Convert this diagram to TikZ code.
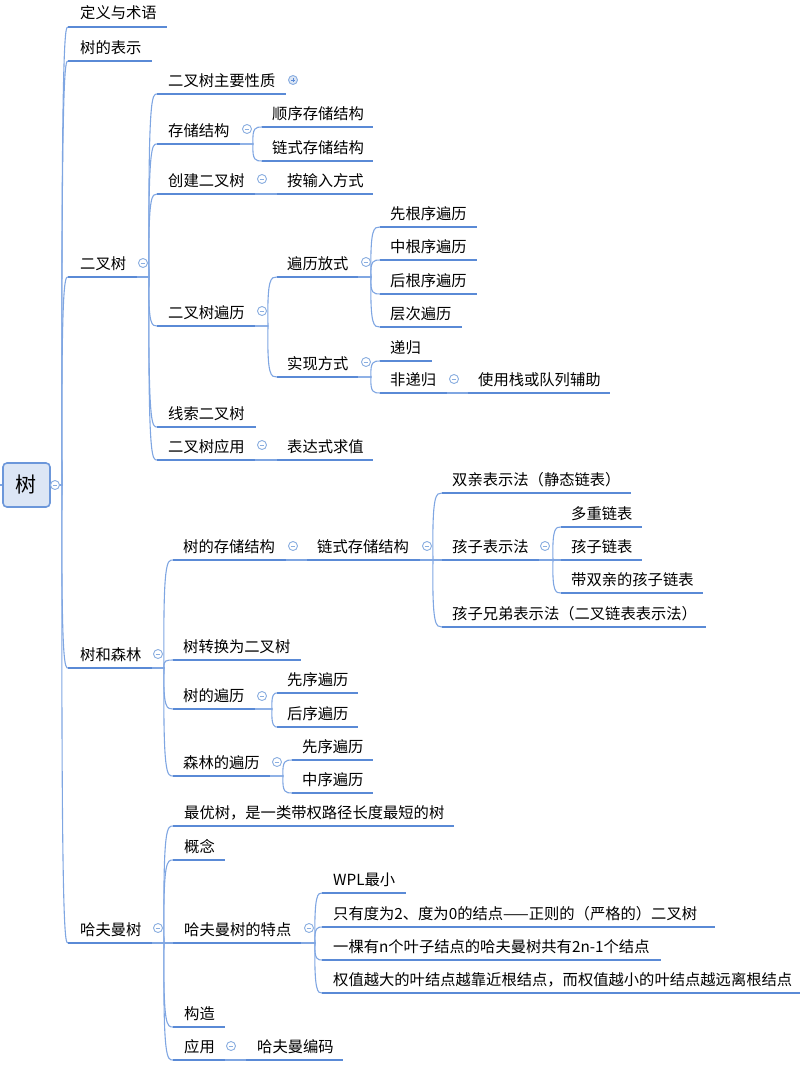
\documentclass[tikz,border=0pt]{standalone}
\usepackage{fontspec}
\newfontfamily\cjk{Noto Sans CJK SC}
\usetikzlibrary{calc}
\definecolor{ulc}{HTML}{5A8AD6}
\definecolor{cnc}{HTML}{7FA6E2}
\definecolor{togc}{HTML}{8AAEE0}
\definecolor{rootfill}{HTML}{DCE6F5}
\definecolor{rootdraw}{HTML}{6C97DA}
\tikzset{
  lbl/.style={anchor=base west, inner sep=0pt, font=\cjk\fontsize{15.3}{15.3}\selectfont, text=black},
  uline/.style={line width=2.6pt, draw=ulc},
  conn/.style={line width=1.1pt, draw=cnc},
  tog/.style={circle, draw=togc, fill=white, line width=0.9pt, minimum size=9pt, inner sep=0pt},
  rootbox/.style={rectangle, rounded corners=4pt, draw=rootdraw, fill=rootfill, line width=1.6pt,
    minimum width=47pt, minimum height=44pt, inner sep=0pt, font=\cjk\fontsize{21}{21}\selectfont}
}
% name, text x, underline x0, underline x1, underline y, text
\newcommand\mmn[6]{%
  \node[lbl] (#1) at (#2,{#5-8}) {#6};
  \coordinate (#1l) at (#3,#5);
  \coordinate (#1r) at (#4,#5);}
\newcommand\mmul[1]{\draw[uline] (#1l) -- (#1r);}
% parent, child, fork x
\newcommand\mlink[3]{%
  \draw[conn] let \p1=(#1r), \p2=(#2l) in
    (\p1) -- (#3pt,\y1) .. controls (#3pt-1pt,\y2) and (#3pt+3pt,\y2) .. (\p2);}
% name, x, y
\newcommand\tgl[3]{%
  \node[tog] (#1) at (#2,#3) {};
  \draw[togc, line width=0.9pt] ($(#1)+(-2.3,0)$) -- ($(#1)+(2.3,0)$);}
\newcommand\tglp[3]{%
  \node[tog, fill=rootfill] (#1) at (#2,#3) {};
  \draw[ulc, line width=0.9pt] ($(#1)+(-1.8,0)$) -- ($(#1)+(1.8,0)$);
  \draw[ulc, line width=0.9pt] ($(#1)+(0,-1.8)$) -- ($(#1)+(0,1.8)$);}

\begin{document}
\begin{tikzpicture}[x=1pt,y=-1pt]
\useasboundingbox (0,0) rectangle (811,1065);

% ---------- nodes ----------
\node[rootbox] (root) at (26.5,485) {树};
\coordinate (stub) at (0,485);

\mmn{a1}{80}{68}{167}{27}{定义与术语}
\mmn{a2}{80}{68}{152}{61}{树的表示}
\mmn{a3}{80}{68}{137}{277}{二叉树}
\mmn{a4}{80}{68}{152}{668}{树和森林}
\mmn{a5}{80}{68}{152}{943}{哈夫曼树}

\mmn{b1}{168}{157}{286}{94}{二叉树主要性质}
\mmn{b2}{168}{157}{240}{144}{存储结构}
\mmn{b3}{168}{157}{255}{194}{创建二叉树}
\mmn{b4}{168}{157}{255}{326}{二叉树遍历}
\mmn{b5}{168}{157}{256}{427}{线索二叉树}
\mmn{b6}{168}{157}{255}{460}{二叉树应用}

\mmn{c1}{272}{262}{373}{127}{顺序存储结构}
\mmn{c2}{272}{262}{373}{161}{链式存储结构}
\mmn{c3}{287}{277}{373}{194}{按输入方式}
\mmn{c4}{287}{277}{373}{460}{表达式求值}

\mmn{d1}{287}{277}{358}{277}{遍历放式}
\mmn{d2}{287}{277}{358}{377}{实现方式}

\mmn{e1}{390}{380}{477}{227}{先根序遍历}
\mmn{e2}{390}{380}{477}{260}{中根序遍历}
\mmn{e3}{390}{380}{477}{294}{后根序遍历}
\mmn{e4}{390}{380}{462}{327}{层次遍历}
\mmn{e5}{390}{380}{432}{361}{递归}
\mmn{e6}{390}{380}{447}{393}{非递归}
\mmn{f1}{478}{468}{610}{393}{使用栈或队列辅助}

\mmn{g1}{183}{173}{286}{560}{树的存储结构}
\mmn{g2}{183}{173}{301}{660}{树转换为二叉树}
\mmn{g3}{183}{173}{255}{709}{树的遍历}
\mmn{g4}{183}{173}{270}{776}{森林的遍历}
\mmn{h1}{317}{307}{420}{560}{链式存储结构}
\mmn{i1}{452}{442}{631}{493}{双亲表示法（静态链表）}
\mmn{i2}{452}{442}{539}{560}{孩子表示法}
\mmn{i3}{452}{442}{706}{627}{孩子兄弟表示法（二叉链表表示法）}
\mmn{j1}{571}{561}{642}{527}{多重链表}
\mmn{j2}{571}{561}{642}{560}{孩子链表}
\mmn{j3}{571}{561}{703}{593}{带双亲的孩子链表}
\mmn{k1}{287}{277}{358}{693}{先序遍历}
\mmn{k2}{287}{277}{358}{727}{后序遍历}
\mmn{k3}{302}{292}{373}{760}{先序遍历}
\mmn{k4}{302}{292}{373}{793}{中序遍历}

\mmn{l1}{184}{173}{454}{826}{最优树，是一类带权路径长度最短的树}
\mmn{l2}{184}{173}{225}{860}{概念}
\mmn{l3}{184}{173}{301}{943}{哈夫曼树的特点}
\mmn{l4}{184}{173}{225}{1027}{构造}
\mmn{l5}{184}{173}{225}{1060}{应用}
\mmn{m1}{333}{322}{406}{893}{WPL最小}
\mmn{m2}{333}{322}{715}{927}{只有度为2、度为0的结点——正则的（严格的）二叉树}
\mmn{m3}{333}{322}{661}{960}{一棵有n个叶子结点的哈夫曼树共有2n-1个结点}
\mmn{m4}{333}{322}{800}{993}{权值越大的叶结点越靠近根结点，而权值越小的叶结点越远离根结点}
\mmn{n1}{257}{246}{343}{1060}{哈夫曼编码}

% ---------- connectors ----------
\draw[conn] (stub) -- (root.west);
\coordinate (rootr) at (59.5,485);
\foreach \c in {a1,a2,a3,a4,a5} {\mlink{root}{\c}{62}}
\foreach \c in {b1,b2,b3,b4,b5,b6} {\mlink{a3}{\c}{149}}
\foreach \c in {c1,c2} {\mlink{b2}{\c}{253}}
\mlink{b3}{c3}{266}
\mlink{b6}{c4}{266}
\foreach \c in {d1,d2} {\mlink{b4}{\c}{268}}
\foreach \c in {e1,e2,e3,e4} {\mlink{d1}{\c}{371}}
\foreach \c in {e5,e6} {\mlink{d2}{\c}{371}}
\mlink{e6}{f1}{458}
\foreach \c in {g1,g2,g3,g4} {\mlink{a4}{\c}{164}}
\mlink{g1}{h1}{297}
\foreach \c in {i1,i2,i3} {\mlink{h1}{\c}{433}}
\foreach \c in {j1,j2,j3} {\mlink{i2}{\c}{553}}
\foreach \c in {k1,k2} {\mlink{g3}{\c}{272}}
\foreach \c in {k3,k4} {\mlink{g4}{\c}{283}}
\foreach \c in {l1,l2,l3,l4,l5} {\mlink{a5}{\c}{164}}
\foreach \c in {m1,m2,m3,m4} {\mlink{l3}{\c}{315}}
\mlink{l5}{n1}{236}

% ---------- underlines ----------
\foreach \n in {a1,a2,a3,a4,a5,b1,b2,b3,b4,b5,b6,c1,c2,c3,c4,d1,d2,e1,e2,e3,e4,e5,e6,f1,
  g1,g2,g3,g4,h1,i1,i2,i3,j1,j2,j3,k1,k2,k3,k4,l1,l2,l3,l4,l5,m1,m2,m3,m4,n1} {\mmul{\n}}

% ---------- toggles ----------
\tgl{trt}{55}{485}
\tgl{ta3}{143}{263}
\tgl{ta4}{158}{654}
\tgl{ta5}{158}{928}
\tglp{tb1}{293}{80}
\tgl{tb2}{247}{129}
\tgl{tb3}{262}{179}
\tgl{tb4}{262}{311}
\tgl{tb6}{262}{445}
\tgl{td1}{366}{262}
\tgl{td2}{366}{362}
\tgl{te6}{454}{379}
\tgl{tg1}{293}{546}
\tgl{tg3}{262}{696}
\tgl{tg4}{277}{762}
\tgl{th1}{427}{546}
\tgl{ti2}{545}{546}
\tgl{tl3}{309}{928}
\tgl{tl5}{231}{1046}
\end{tikzpicture}
\end{document}
